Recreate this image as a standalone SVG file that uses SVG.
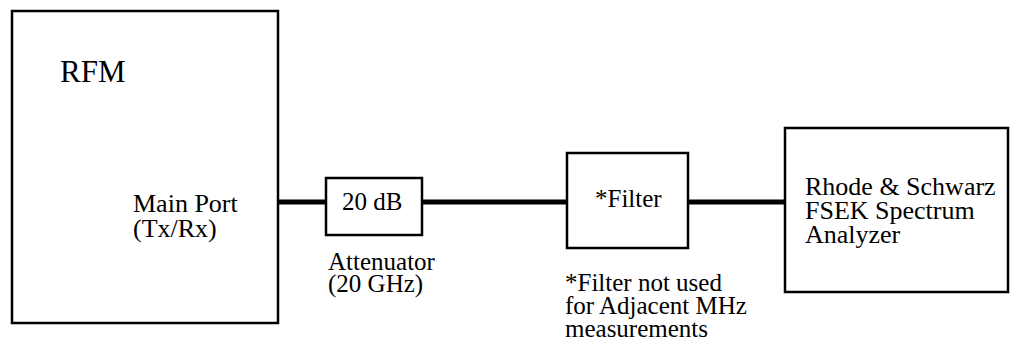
<svg xmlns="http://www.w3.org/2000/svg" width="1016" height="347" viewBox="0 0 1016 347">
<style>
.box{fill:#fff;stroke:#000;stroke-width:2.5}
.wire{stroke:#000;stroke-width:5;fill:none}
text{font-family:"Liberation Serif","Times New Roman",serif;fill:#000;font-size:25px}
.big{font-size:26px}
</style>
<rect width="1016" height="347" fill="#fff"/>
<g id="connectors">
<line class="wire" x1="278" y1="202" x2="326" y2="202"/>
<line class="wire" x1="422" y1="202" x2="567" y2="202"/>
<line class="wire" x1="688" y1="202" x2="785" y2="202"/>
</g>
<g id="rfm">
<rect class="box" x="12" y="11" width="266" height="312"/>
<text x="60" y="82" style="font-size:31px">RFM</text>
<text class="big" x="133" y="212">Main Port</text>
<text class="big" x="133" y="237">(Tx/Rx)</text>
</g>
<g id="attenuator">
<rect class="box" x="326" y="178" width="96" height="57"/>
<text x="342" y="210">20 dB</text>
<text x="328" y="270">Attenuator</text>
<text x="328" y="292">(20 GHz)</text>
</g>
<g id="filter">
<rect class="box" x="567" y="153" width="121" height="95"/>
<text x="595" y="207">*Filter</text>
<text x="565" y="291">*Filter not used</text>
<text x="565" y="314">for Adjacent MHz</text>
<text x="565" y="337">measurements</text>
</g>
<g id="analyzer">
<rect class="box" x="785" y="128" width="223" height="164"/>
<text class="big" x="805" y="195">Rhode &amp; Schwarz</text>
<text class="big" x="805" y="219">FSEK Spectrum</text>
<text class="big" x="805" y="243">Analyzer</text>
</g>
</svg>
